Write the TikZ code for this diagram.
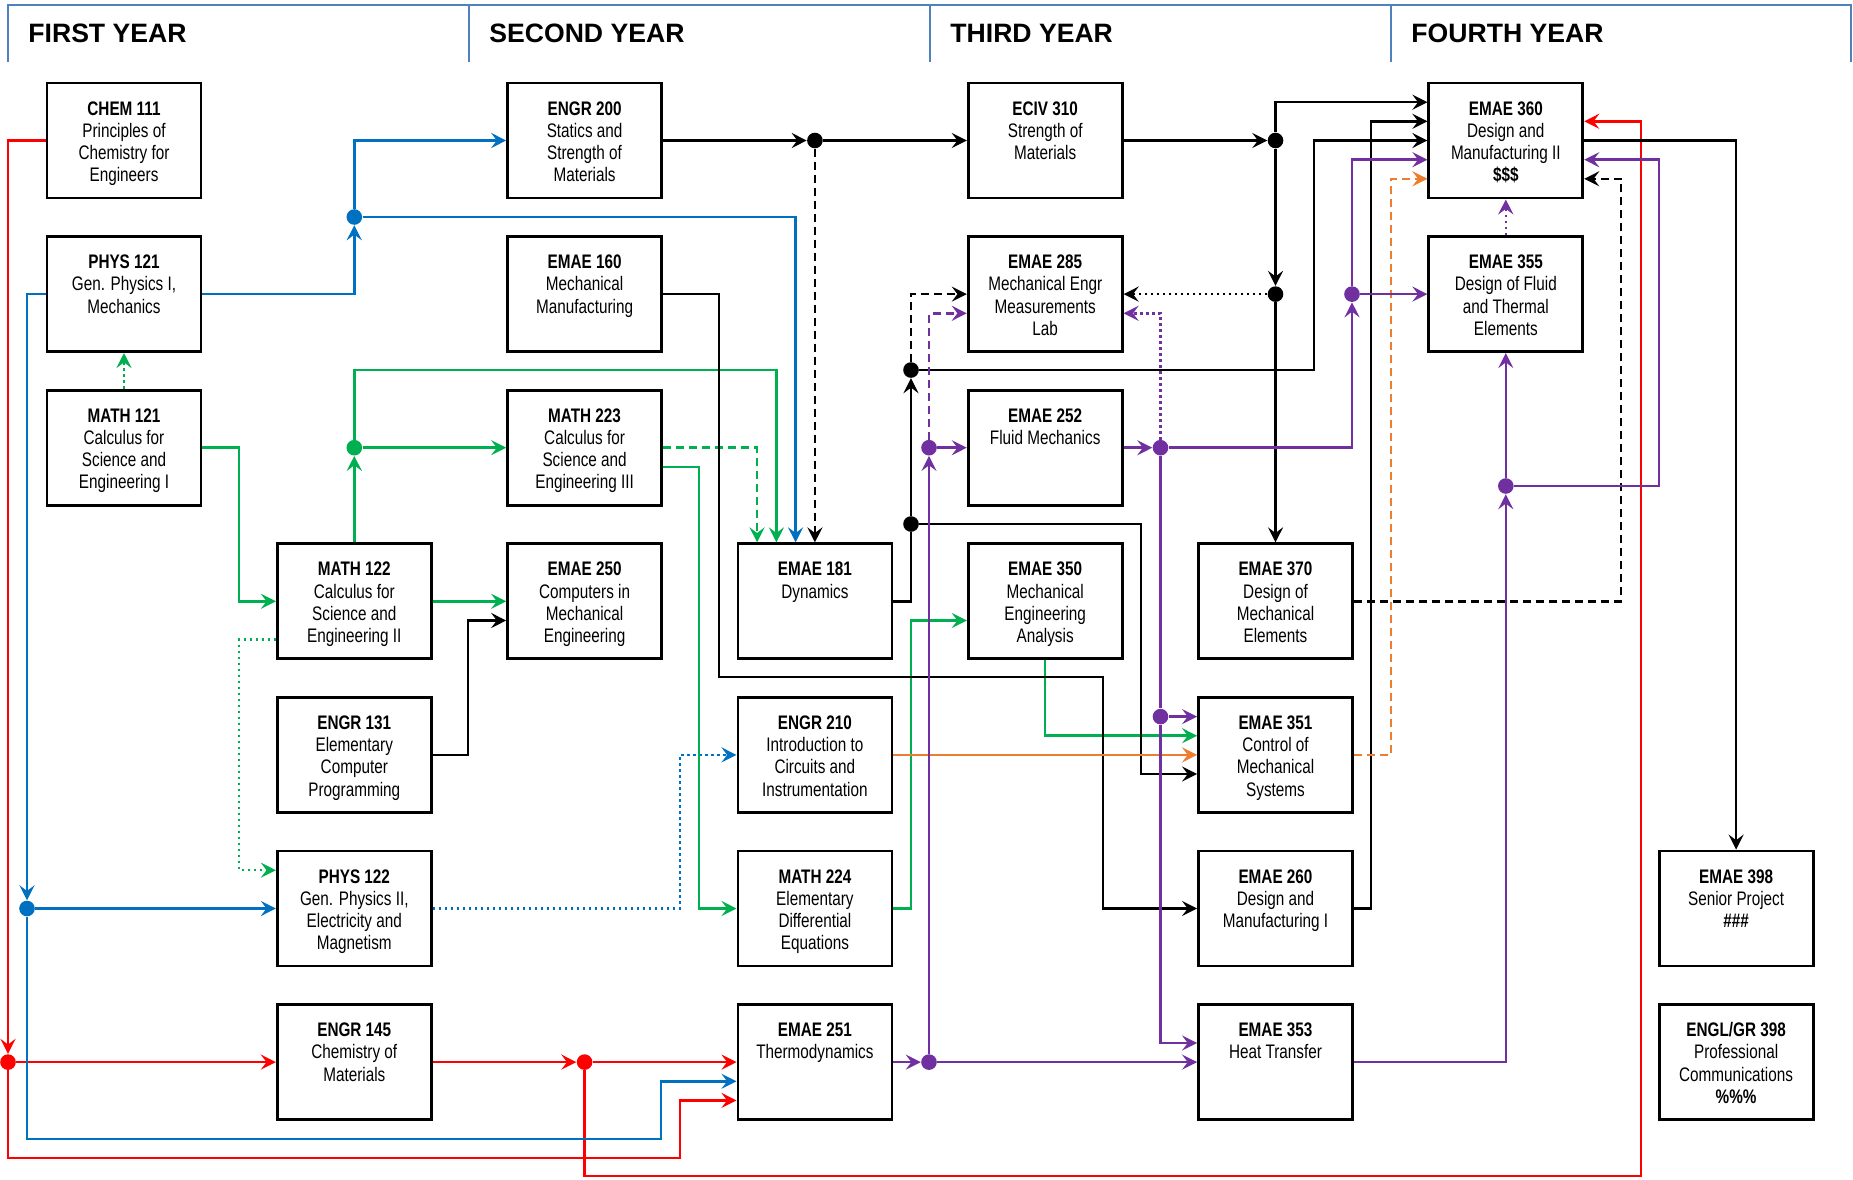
\documentclass[tikz,border=0pt]{standalone}
\usepackage{fontspec}
\newfontfamily\boxfont[FakeStretch=0.78]{Liberation Sans}
\newfontfamily\headfont{Liberation Sans}
\usetikzlibrary{arrows.meta}
\definecolor{cred}{HTML}{FF0000}
\definecolor{cblue}{HTML}{0070C0}
\definecolor{cgreen}{HTML}{00B050}
\definecolor{cpurple}{HTML}{7030A0}
\definecolor{corange}{HTML}{ED7D31}
\definecolor{chead}{HTML}{4F81BD}
\newcommand{\crs}[2]{\parbox[c][57.5pt][t]{77pt}{\centering\rule{0pt}{16pt}\textbf{#1}\\#2}}
\begin{document}
\begin{tikzpicture}[x=0.5pt,y=-0.5pt,
  box/.style={draw, line width=1.4pt, inner sep=0pt, font=\boxfont\fontsize{9.8pt}{11.1pt}\selectfont},
  jdot/.style={circle, inner sep=0pt, minimum size=7.8pt},
  wire/.style={line width=1.25pt},
  con/.style={line width=1.25pt, -{Stealth[length=7.5pt,width=7.5pt,inset=2.8pt]}},
  dsh/.style={dash pattern=on 4pt off 2.5pt},
  dtt/.style={dash pattern=on 1.2pt off 1.8pt},
  yearhead/.style={anchor=base west, inner sep=0pt, font=\headfont\bfseries\fontsize{13.3pt}{15pt}\selectfont}
]
\useasboundingbox (0,0) rectangle (1853,1179);
% header
\draw[chead, line width=1.2pt] (8,62) -- (8,5) -- (1851,5) -- (1851,62);
\foreach \x in {469,930,1391} \draw[chead, line width=1.2pt] (\x,5) -- (\x,62);
\node[yearhead] (h1) at (28,42) {FIRST YEAR};
\node[yearhead] (h2) at (489,42) {SECOND YEAR};
\node[yearhead] (h3) at (950,42) {THIRD YEAR};
\node[yearhead] (h4) at (1411,42) {FOURTH YEAR};
% courses
\node[box] (chem) at (124,140.5) {\crs{CHEM 111}{Principles of\\Chemistry for\\Engineers}};
\node[box] (p121) at (124,294.1) {\crs{PHYS 121}{Gen. Physics I,\\Mechanics}};
\node[box] (m121) at (124,447.7) {\crs{MATH 121}{Calculus for\\Science and\\Engineering I}};
\node[box] (m122) at (354.3,601.3) {\crs{MATH 122}{Calculus for\\Science and\\Engineering II}};
\node[box] (e131) at (354.3,754.9) {\crs{ENGR 131}{Elementary\\Computer\\Programming}};
\node[box] (p122) at (354.3,908.5) {\crs{PHYS 122}{Gen. Physics II,\\Electricity and\\Magnetism}};
\node[box] (e145) at (354.3,1062.1) {\crs{ENGR 145}{Chemistry of\\Materials}};
\node[box] (e200) at (584.6,140.5) {\crs{ENGR 200}{Statics and\\Strength of\\Materials}};
\node[box] (e160) at (584.6,294.1) {\crs{EMAE 160}{Mechanical\\Manufacturing}};
\node[box] (m223) at (584.6,447.7) {\crs{MATH 223}{Calculus for\\Science and\\Engineering III}};
\node[box] (e250) at (584.6,601.3) {\crs{EMAE 250}{Computers in\\Mechanical\\Engineering}};
\node[box] (e181) at (814.9,601.3) {\crs{EMAE 181}{Dynamics}};
\node[box] (e210) at (814.9,754.9) {\crs{ENGR 210}{Introduction to\\Circuits and\\Instrumentation}};
\node[box] (m224) at (814.9,908.5) {\crs{MATH 224}{Elementary\\Differential\\Equations}};
\node[box] (e251) at (814.9,1062.1) {\crs{EMAE 251}{Thermodynamics}};
\node[box] (e310) at (1045.2,140.5) {\crs{ECIV 310}{Strength of\\Materials}};
\node[box] (e285) at (1045.2,294.1) {\crs{EMAE 285}{Mechanical Engr\\Measurements\\Lab}};
\node[box] (e252) at (1045.2,447.7) {\crs{EMAE 252}{Fluid Mechanics}};
\node[box] (e350) at (1045.2,601.3) {\crs{EMAE 350}{Mechanical\\Engineering\\Analysis}};
\node[box] (e370) at (1275.5,601.3) {\crs{EMAE 370}{Design of\\Mechanical\\Elements}};
\node[box] (e351) at (1275.5,754.9) {\crs{EMAE 351}{Control of\\Mechanical\\Systems}};
\node[box] (e260) at (1275.5,908.5) {\crs{EMAE 260}{Design and\\Manufacturing I}};
\node[box] (e353) at (1275.5,1062.1) {\crs{EMAE 353}{Heat Transfer}};
\node[box] (e360) at (1505.8,140.5) {\crs{EMAE 360}{Design and\\Manufacturing II\\\textbf{\$\$\$}}};
\node[box] (e355) at (1505.8,294.1) {\crs{EMAE 355}{Design of Fluid\\and Thermal\\Elements}};
\node[box] (e398) at (1736.1,908.5) {\crs{EMAE 398}{Senior Project\\\textbf{\#\#\#}}};
\node[box] (engl) at (1736.1,1062.1) {\crs{ENGL/GR 398}{Professional\\Communications\\\textbf{\%\%\%}}};
% junction dots
\node[jdot, fill=cred] (rA) at (8,1062.1) {};
\node[jdot, fill=cred] (rB) at (584.6,1062.1) {};
\node[jdot, fill=cblue] (bA) at (354.3,217) {};
\node[jdot, fill=cblue] (bB) at (27,908.5) {};
\node[jdot, fill=cgreen] (gA) at (354.3,447.7) {};
\node[jdot, fill=black] (kA) at (814.9,140.5) {};
\node[jdot, fill=black] (kB) at (911,524) {};
\node[jdot, fill=black] (kC) at (911,370) {};
\node[jdot, fill=black] (kD) at (1275.5,140.5) {};
\node[jdot, fill=black] (kE) at (1275.5,294.1) {};
\node[jdot, fill=cpurple] (pA) at (929,1062.1) {};
\node[jdot, fill=cpurple] (pB) at (929,447.7) {};
\node[jdot, fill=cpurple] (pC) at (1160.5,447.7) {};
\node[jdot, fill=cpurple] (pD) at (1352,294.1) {};
\node[jdot, fill=cpurple] (pE) at (1160.5,716.6) {};
\node[jdot, fill=cpurple] (pF) at (1505.8,486) {};
% red
\draw[con, cred] (chem.west) -| (rA);
\draw[con, cred] (rA) -- (e145.west);
\draw[con, cred] (rA) -- (8,1158) -| (680,1100.4) -- (e251.west |- 0,1100.4);
\draw[con, cred] (e145.east) -- (rB);
\draw[con, cred] (rB) -- (e251.west);
\draw[con, cred] (rB) -- (584.6,1176) -| (1641,121.3) -- (e360.east |- 0,121.3);
% blue
\draw[con, cblue] (p121.east) -| (bA);
\draw[con, cblue] (bA) |- (e200.west);
\draw[con, cblue] (bA) -| (e181.north -| 795.6,0);
\draw[con, cblue] (p121.west) -| (bB);
\draw[con, cblue] (bB) -- (p122.west);
\draw[con, cblue] (bB) -- (27,1139) -| (661,1081.3) -- (e251.west |- 0,1081.3);
\draw[con, cblue, dtt] (p122.east) -| (680,754.9) -- (e210.west);
% green
\draw[con, cgreen, dtt] (m121.north) -- (p121.south);
\draw[con, cgreen] (m121.east) -| (239,601.3) -- (m122.west);
\draw[con, cgreen] (m122.north) -- (gA);
\draw[con, cgreen] (gA) -- (m223.west);
\draw[con, cgreen] (gA) |- (776.4,370) -- (e181.north -| 776.4,0);
\draw[con, cgreen] (m122.east) -- (e250.west);
\draw[con, cgreen, dtt] (m122.west |- 0,639.6) -| (239,870.2) -- (p122.west |- 0,870.2);
\draw[con, cgreen, dsh] (m223.east) -| (e181.north -| 757.1,0);
\draw[con, cgreen] (m223.east |- 0,466.9) -| (699,908.5) -- (m224.west);
\draw[con, cgreen] (m224.east) -| (911,620.5) -- (e350.west |- 0,620.5);
\draw[con, cgreen] (e350.south) |- (e351.west |- 0,735.7);
% black
\draw[con] (e131.east) -| (468,620.5) -- (e250.west |- 0,620.5);
\draw[con] (e200.east) -- (kA);
\draw[con] (kA) -- (e310.west);
\draw[con, dsh] (kA) -- (e181.north);
\draw[con] (e160.east) -| (719,677) -| (1103,908.5) -- (e260.west);
\draw[wire] (e181.east) -| (kB);
\draw[con] (kB) -- (kC);
\draw[con] (kB) -| (1141,774) -- (e351.west |- 0,774);
\draw[con] (kC) -| (1314,140.5) -- (e360.west);
\draw[con, dsh] (kC) |- (e285.west);
\draw[con] (e310.east) -- (kD);
\draw[con] (kD) -- (kE);
\draw[con] (kE) -- (e370.north);
\draw[con, dtt] (kE) -- (e285.east);
\draw[con] (kD) |- (e360.west |- 0,102.2);
\draw[con] (e260.east) -| (1371,121.3) -- (e360.west |- 0,121.3);
\draw[con, dsh] (e370.east) -| (1621,178.8) -- (e360.east |- 0,178.8);
\draw[con] (e360.east) -| (e398.north);
% orange
\draw[con, corange] (e210.east) -- (e351.west);
\draw[con, corange, dsh] (e351.east) -| (1391,178.8) -- (e360.west |- 0,178.8);
% purple
\draw[con, cpurple] (e251.east) -- (pA);
\draw[con, cpurple] (pA) -- (e353.west);
\draw[con, cpurple] (pA) -- (pB);
\draw[con, cpurple] (pB) -- (e252.west);
\draw[con, cpurple, dsh] (pB) |- (e285.west |- 0,313.3);
\draw[con, cpurple] (e252.east) -- (pC);
\draw[con, cpurple, dtt] (pC) |- (e285.east |- 0,313.3);
\draw[con, cpurple] (pC) -| (pD);
\draw[con, cpurple] (pD) -- (e355.west);
\draw[con, cpurple] (pD) |- (e360.west |- 0,159.7);
\draw[wire, cpurple] (pC) -- (pE);
\draw[con, cpurple] (pE) -- (e351.west |- 0,716.6);
\draw[con, cpurple] (pE) |- (e353.west |- 0,1043);
\draw[con, cpurple] (e353.east) -| (pF);
\draw[con, cpurple] (pF) -- (e355.south);
\draw[con, cpurple] (pF) -| (1659,159.7) -- (e360.east |- 0,159.7);
\draw[con, cpurple, dtt] (e355.north) -- (e360.south);
\end{tikzpicture}
\end{document}
